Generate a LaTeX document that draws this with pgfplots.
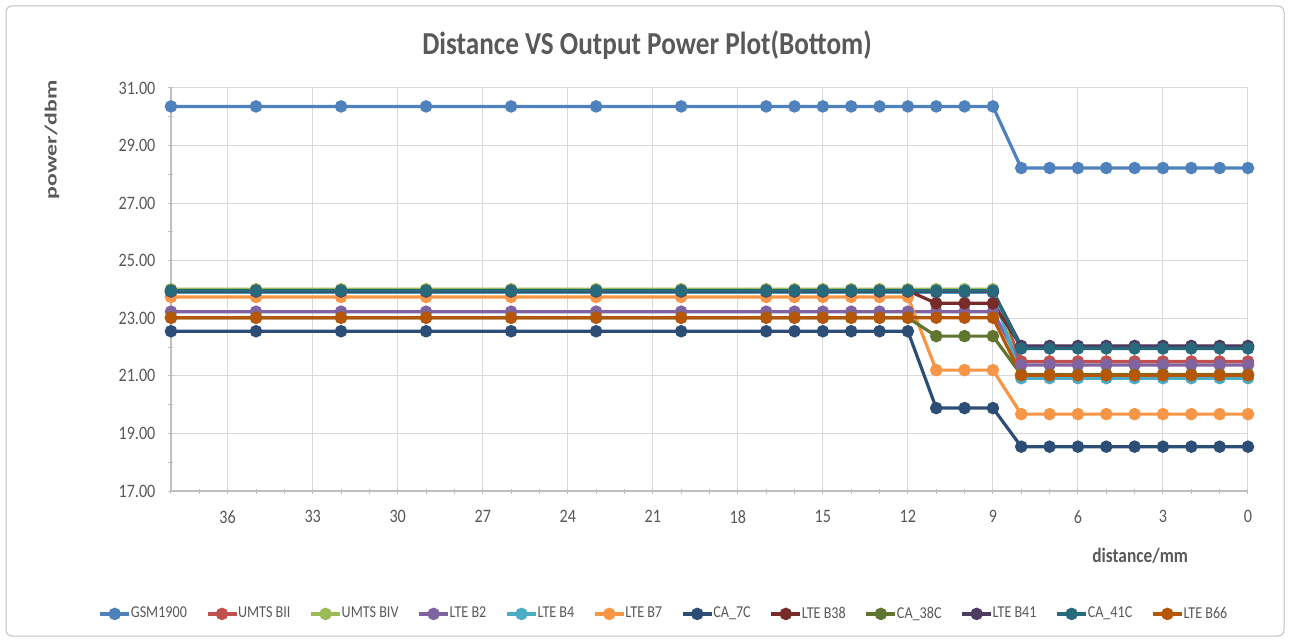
\documentclass[border=0pt]{standalone}
\usepackage{fontspec}
\setmainfont{Carlito}[FakeStretch=0.85]
\newfontfamily\labfont{Carlito}
\usepackage{pgfplots}
\usepackage{pgfplotstable}
\pgfplotsset{compat=1.18}
\definecolor{cgsm}{HTML}{4F81BD}
\definecolor{cbii}{HTML}{C0504D}
\definecolor{cbiv}{HTML}{9BBB59}
\definecolor{cbtwo}{HTML}{8064A2}
\definecolor{cbfour}{HTML}{4BACC6}
\definecolor{cbseven}{HTML}{F79646}
\definecolor{ccaseven}{HTML}{2C4D75}
\definecolor{cbtxe}{HTML}{772C2A}
\definecolor{ccatxe}{HTML}{5F7530}
\definecolor{cbfo}{HTML}{4D3B62}
\definecolor{ccafo}{HTML}{276A7C}
\definecolor{cbss}{HTML}{B65708}
\definecolor{txtgray}{HTML}{595959}
\definecolor{gridgray}{HTML}{D9D9D9}
\definecolor{axgray}{HTML}{BFBFBF}

\pgfplotstableread{
x  gsm   bii   biv   btwo  bfour bseven caseven btxe  catxe bfo   cafo  bss
38 30.36 23.90 24.01 23.23 23.90 23.74  22.55   23.96 23.02 23.93 23.96 23.02
35 30.36 23.90 24.01 23.23 23.90 23.74  22.55   23.96 23.02 23.93 23.96 23.02
32 30.36 23.90 24.01 23.23 23.90 23.74  22.55   23.96 23.02 23.93 23.96 23.02
29 30.36 23.90 24.01 23.23 23.90 23.74  22.55   23.96 23.02 23.93 23.96 23.02
26 30.36 23.90 24.01 23.23 23.90 23.74  22.55   23.96 23.02 23.93 23.96 23.02
23 30.36 23.90 24.01 23.23 23.90 23.74  22.55   23.96 23.02 23.93 23.96 23.02
20 30.36 23.90 24.01 23.23 23.90 23.74  22.55   23.96 23.02 23.93 23.96 23.02
17 30.36 23.90 24.01 23.23 23.90 23.74  22.55   23.96 23.02 23.93 23.96 23.02
16 30.36 23.90 24.01 23.23 23.90 23.74  22.55   23.96 23.02 23.93 23.96 23.02
15 30.36 23.90 24.01 23.23 23.90 23.74  22.55   23.96 23.02 23.93 23.96 23.02
14 30.36 23.90 24.01 23.23 23.90 23.74  22.55   23.96 23.02 23.93 23.96 23.02
13 30.36 23.90 24.01 23.23 23.90 23.74  22.55   23.96 23.02 23.93 23.96 23.02
12 30.36 23.90 24.01 23.23 23.90 23.74  22.55   23.96 23.02 23.93 23.96 23.02
11 30.36 23.90 24.01 23.23 23.90 21.20  19.88   23.52 22.38 23.93 23.96 23.02
10 30.36 23.90 24.01 23.23 23.90 21.20  19.88   23.52 22.38 23.93 23.96 23.02
9  30.36 23.90 24.01 23.23 23.90 21.20  19.88   23.52 22.38 23.93 23.96 23.02
8  28.22 21.50 21.05 21.38 20.92 19.67  18.54   22.02 21.04 22.04 21.95 21.02
7  28.22 21.50 21.05 21.38 20.92 19.67  18.54   22.02 21.04 22.04 21.95 21.02
6  28.22 21.50 21.05 21.38 20.92 19.67  18.54   22.02 21.04 22.04 21.95 21.02
5  28.22 21.50 21.05 21.38 20.92 19.67  18.54   22.02 21.04 22.04 21.95 21.02
4  28.22 21.50 21.05 21.38 20.92 19.67  18.54   22.02 21.04 22.04 21.95 21.02
3  28.22 21.50 21.05 21.38 20.92 19.67  18.54   22.02 21.04 22.04 21.95 21.02
2  28.22 21.50 21.05 21.38 20.92 19.67  18.54   22.02 21.04 22.04 21.95 21.02
1  28.22 21.50 21.05 21.38 20.92 19.67  18.54   22.02 21.04 22.04 21.95 21.02
0  28.22 21.50 21.05 21.38 20.92 19.67  18.54   22.02 21.04 22.04 21.95 21.02
}\data

\begin{document}
\begin{tikzpicture}
\path[use as bounding box, fill=white] (0,0) rectangle (645pt,-320.5pt);
\draw[axgray, line width=0.5pt, rounded corners=3pt] (3pt,-3pt) rectangle (642pt,-318pt);
\node[text=txtgray, font=\fontsize{16}{19}\selectfont\bfseries] at (323.5pt,-22.5pt) {Distance VS Output Power Plot(Bottom)};
\node[text=txtgray, rotate=90, font=\labfont\fontsize{8.5}{10}\selectfont\bfseries] at (26pt,-70pt) {\scalebox{1.4}[1]{power/dbm}};
\node[text=txtgray, anchor=east, font=\fontsize{10.2}{12}\selectfont\bfseries] at (597.5pt,-278pt) {distance/mm};
\begin{axis}[
  at={(85.5pt,-245.5pt)}, anchor=south west,
  width=538.5pt, height=201.5pt, scale only axis,
  x dir=reverse, xmin=0, xmax=38, ymin=17, ymax=31,
  xtick distance=3, ytick={17,19,...,31},
  minor x tick num=2, minor ytick={18,20,...,30},
  axis x line=bottom, axis y line=left,
  axis line style={draw=axgray, line width=0.6pt, -},
  major tick length=2.5pt, minor tick length=2.5pt,
  tick style={draw=axgray, line width=0.5pt},
  xmajorgrids, ymajorgrids,
  major grid style={draw=gridgray, line width=0.5pt},
  /pgf/number format/assume math mode=true,
  ticklabel style={font=\fontsize{9.5}{11}\selectfont, text=txtgray},
  yticklabel style={/pgf/number format/.cd, fixed, fixed zerofill, precision=2, /tikz/.cd, xshift=-3pt},
  xticklabel style={yshift=-5pt},
  legend columns=12,
  legend style={at={(axis description cs:0.4587,-0.305)}, anchor=center, draw=none, fill=none,
    font=\fontsize{8.3}{9.6}\selectfont, text=txtgray,
    /tikz/every even column/.append style={column sep=7.5pt},
    /tikz/every odd column/.append style={column sep=-2pt}},
  legend image code/.code={\draw[mark repeat=2,mark phase=2,#1] plot coordinates {(0pt,0pt) (7.25pt,0pt) (14.5pt,0pt)};},
  every axis plot/.append style={line width=1.6pt, mark=*, mark size=2.3pt, mark options={solid, line width=0.4pt}},
  clip=false,
]
\addplot[cgsm, mark options={fill=cgsm}] table[x=x,y=gsm]{\data};
\addlegendentry{GSM1900}
\addplot[cbii, mark options={fill=cbii}] table[x=x,y=bii]{\data};
\addlegendentry{UMTS BII}
\addplot[cbiv, mark options={fill=cbiv}] table[x=x,y=biv]{\data};
\addlegendentry{UMTS BIV}
\addplot[cbtwo, mark options={fill=cbtwo}] table[x=x,y=btwo]{\data};
\addlegendentry{LTE B2}
\addplot[cbfour, mark options={fill=cbfour}] table[x=x,y=bfour]{\data};
\addlegendentry{LTE B4}
\addplot[cbseven, mark options={fill=cbseven}] table[x=x,y=bseven]{\data};
\addlegendentry{LTE B7}
\addplot[ccaseven, mark options={fill=ccaseven}] table[x=x,y=caseven]{\data};
\addlegendentry{CA\_7C}
\addplot[cbtxe, mark options={fill=cbtxe}] table[x=x,y=btxe]{\data};
\addlegendentry{LTE B38}
\addplot[ccatxe, mark options={fill=ccatxe}] table[x=x,y=catxe]{\data};
\addlegendentry{CA\_38C}
\addplot[cbfo, mark options={fill=cbfo}] table[x=x,y=bfo]{\data};
\addlegendentry{LTE B41}
\addplot[ccafo, mark options={fill=ccafo}] table[x=x,y=cafo]{\data};
\addlegendentry{CA\_41C}
\addplot[cbss, mark options={fill=cbss}] table[x=x,y=bss]{\data};
\addlegendentry{LTE B66}
\end{axis}
\end{tikzpicture}
\end{document}
